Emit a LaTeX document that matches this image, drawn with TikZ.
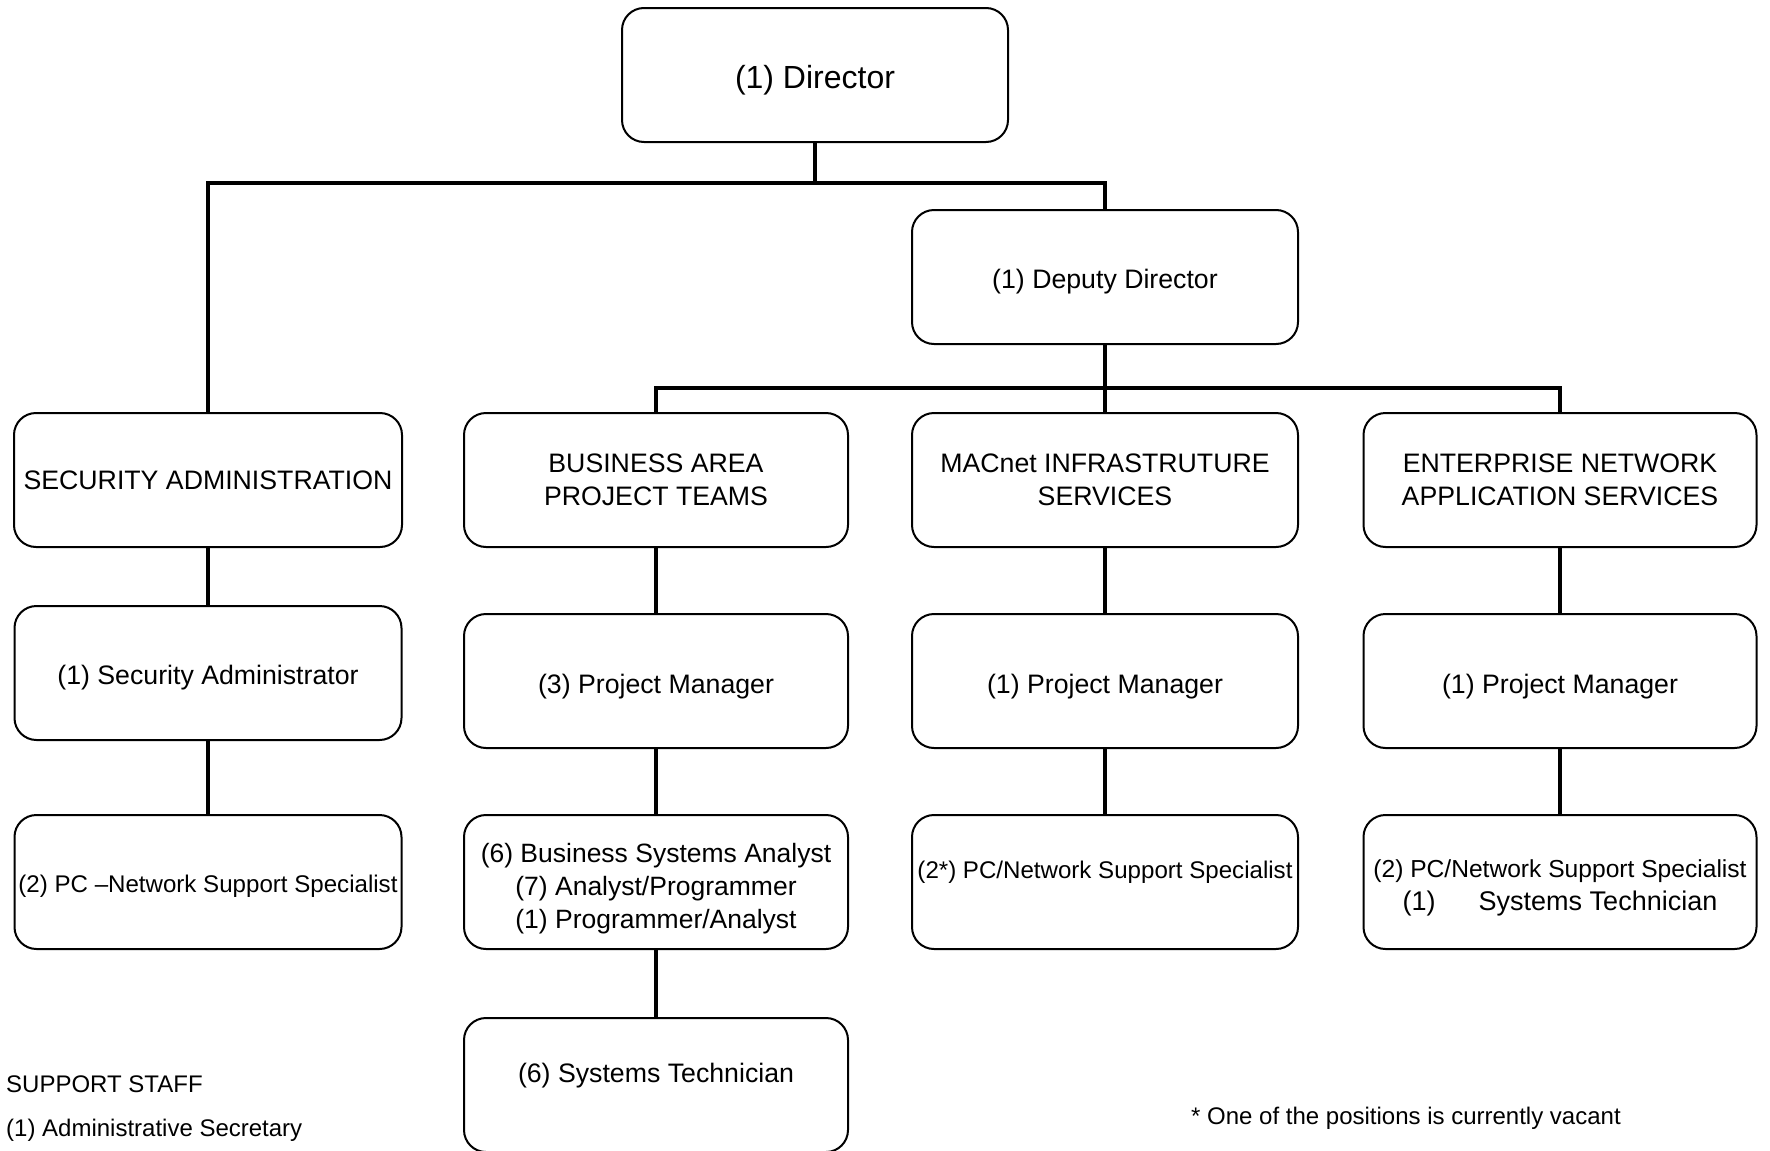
\documentclass[tikz,border=0pt]{standalone}
\usepackage{fontspec}
\setmainfont{Liberation Sans}
\newcommand\orgsize[1]{\fontsize{#1}{33}\selectfont}
\newcommand\orgstrut[1]{\rule{0pt}{#1}}
\begin{document}
\begin{tikzpicture}[x=1pt,y=-1pt,
  box/.style={draw,line width=2pt,rounded corners=22pt,minimum width=386pt,minimum height=134pt,
    inner sep=0pt,align=center,font=\orgsize{26.7}},
  link/.style={line width=4.5pt},
  note/.style={anchor=west,inner sep=0pt,font=\orgsize{24}}]
\useasboundingbox (0,0) rectangle (1770,1151);
\node[box,font=\orgsize{32}] (dir) at (815,75) {\orgstrut{34.5pt}(1) Director};
\node[box] (dep) at (1105,277) {\orgstrut{28.4pt}(1) Deputy Director};
\node[box,minimum width=388pt] (sec) at (208,480) {SECURITY ADMINISTRATION};
\node[box,minimum width=384pt] (bus) at (656,480) {BUSINESS AREA\\PROJECT TEAMS};
\node[box] (mac) at (1105,480) {MACnet INFRASTRUTURE\\SERVICES};
\node[box,minimum width=393pt] (ent) at (1560,480) {ENTERPRISE NETWORK\\APPLICATION SERVICES};
\node[box,minimum width=387pt] (secadm) at (208,673) {\orgstrut{28.4pt}(1) Security Administrator};
\node[box,minimum width=384pt] (buspm) at (656,681) {\orgstrut{30.6pt}(3) Project Manager};
\node[box] (macpm) at (1105,681) {\orgstrut{30.6pt}(1) Project Manager};
\node[box,minimum width=393pt] (entpm) at (1560,681) {\orgstrut{30.6pt}(1) Project Manager};
\node[box,minimum width=387pt,font=\orgsize{24.1}] (secpc) at (208,882) {\orgstrut{26.5pt}(2) PC --Network Support Specialist};
\node[box,minimum width=384pt,font=\orgsize{26.5}] (busan) at (656,882) {\orgstrut{32.9pt}(6) Business Systems Analyst\\(7) Analyst/Programmer\\(1) Programmer/Analyst};
\node[box,font=\orgsize{24.1},text depth=25pt] (macpc) at (1105,882) {(2*) PC/Network Support Specialist};
\node[box,minimum width=393pt,font=\orgsize{24.6}] (entpc) at (1560,882) {\orgstrut{29.1pt}(2) PC/Network Support Specialist\\{\orgsize{27}(1)\hspace{43pt}Systems Technician}};
\node[box,minimum width=384pt,text depth=25pt] (bustech) at (656,1085) {(6) Systems Technician};
\node[note] (staff) at (6,1084) {SUPPORT STAFF};
\node[note] (secy) at (6,1130) {(1) Administrative Secretary};
\node[note] (vacant) at (1191,1118) {* One of the positions is currently vacant};
\coordinate (b1) at (815,183);
\coordinate (b2) at (1105,388);
\draw[link] (dir.south) -- (b1);
\draw[link] (sec.north) |- (b1) -| (dep.north);
\draw[link] (dep.south) -- (mac.north);
\draw[link] (bus.north) |- (b2) -| (ent.north);
\draw[link] (sec) -- (secadm);
\draw[link] (secadm) -- (secpc);
\draw[link] (bus) -- (buspm);
\draw[link] (buspm) -- (busan);
\draw[link] (busan) -- (bustech);
\draw[link] (mac) -- (macpm);
\draw[link] (macpm) -- (macpc);
\draw[link] (ent) -- (entpm);
\draw[link] (entpm) -- (entpc);
\end{tikzpicture}
\end{document}
